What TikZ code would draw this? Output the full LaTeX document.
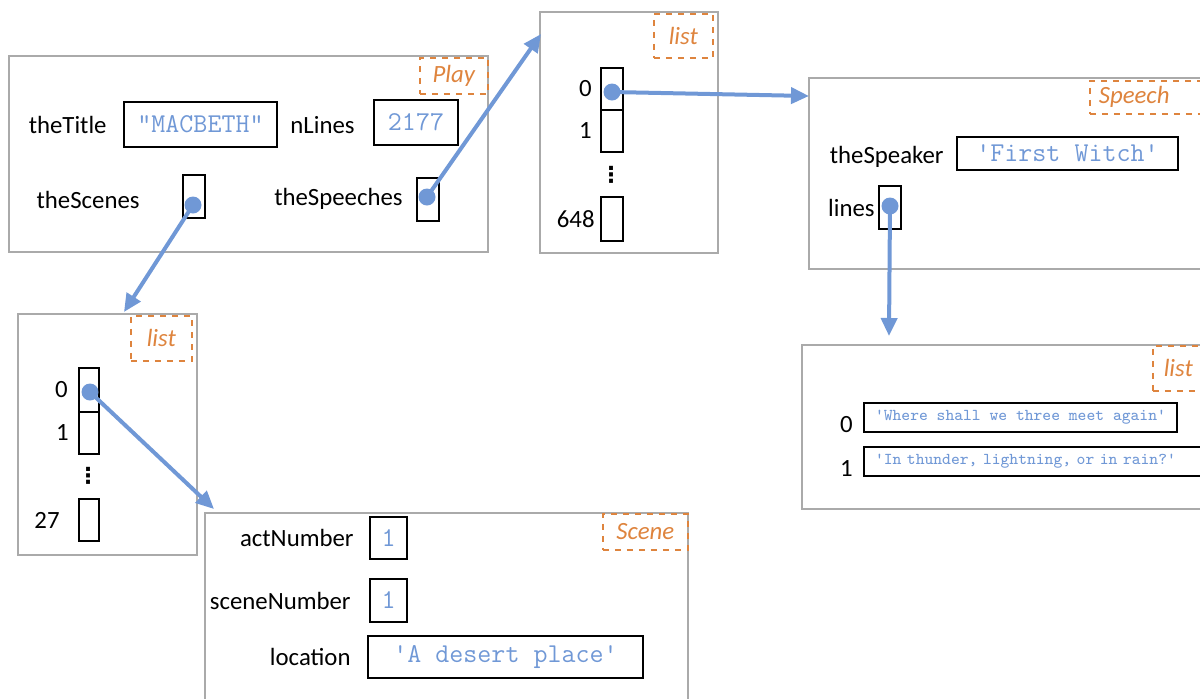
\documentclass[tikz,border=0pt]{standalone}
\usepackage{fontspec}
\setmainfont{Carlito}
\newfontfamily\symfont{DejaVu Sans}
\usepackage{tikz}
\usetikzlibrary{positioning,arrows.meta}
\definecolor{ptrblue}{RGB}{112,152,214}
\definecolor{tagorange}{RGB}{222,132,62}
\definecolor{objgray}{RGB}{170,170,170}

\begin{document}
\begin{tikzpicture}[x=0.5pt, y=-0.5pt,
  obj/.style = {draw=objgray, line width=1pt, anchor=north west, inner sep=0},
  tag/.style = {draw=tagorange, dashed, line width=0.8pt, text=tagorange, font=\fontsize{12.4}{15}\selectfont\itshape, anchor=north west, inner sep=0},
  val/.style = {draw, line width=1pt, text=ptrblue, font=\fontsize{13.6}{15}\selectfont\ttfamily, inner sep=0},
  item/.style = {val, font=\fontsize{8.3}{10}\selectfont\ttfamily, anchor=west, inner xsep=5.5pt, minimum height=14.5pt},
  cell/.style = {draw, line width=1pt, minimum width=11pt, minimum height=21.5pt, inner sep=0, outer sep=0},
  lbl/.style = {font=\fontsize{12.4}{15}\selectfont, inner sep=0},
  vdot/.style = {font=\fontsize{11}{12}\selectfont\bfseries\symfont, inner sep=0},
  dot/.style = {circle, fill=ptrblue, minimum size=8.5pt, inner sep=0},
  ptr/.style = {ptrblue, line width=2pt, -{Triangle[length=9pt, width=8pt]}}]
  \useasboundingbox (0,0) rectangle (1200,698);
  \clip (0,0) rectangle (1200,698);
  % Play
  \node[obj, minimum width=239.5pt, minimum height=98pt] (play) at (8,55) {};
  \node[tag, minimum width=34pt, minimum height=18pt] (playtag) at (419,57) {Play};
  \node[val, minimum width=76.5pt, minimum height=22.5pt] (title) at (200.5,124.5) {"MACBETH"};
  \node[lbl, left=8pt of title] (titlelbl) {theTitle};
  \node[val, minimum width=42pt, minimum height=22.5pt] (nlines) at (416,122.5) {2177};
  \node[lbl, left=9pt of nlines, yshift=-1.5pt] (nlineslbl) {nLines};
  \node[cell] (scenes) at (194,196.5) {};
  \node[lbl, left=21.5pt of scenes, yshift=-1.5pt] (sceneslbl) {theScenes};
  \node[cell] (speeches) at (428,199) {};
  \node[lbl, left=7pt of speeches] (speecheslbl) {theSpeeches};
  \node[dot] (scenesdot) at (193,205) {};
  \node[dot] (speechesdot) at (427,197) {};
  % list of speeches
  \node[obj, minimum width=89pt, minimum height=120.5pt] (spklist) at (539,11) {};
  \node[tag, minimum width=29.5pt, minimum height=22pt] (spklisttag) at (653,13) {list};
  \node[cell, minimum height=21pt] (s0) at (612,89) {};
  \node[cell, minimum height=21pt, below=0pt of s0] (s1) {};
  \node[vdot] (vd1) at (611,175) {⋮};
  \node[cell, minimum height=22pt] (s648) at (612,219) {};
  \node[lbl, left=4.5pt of s0] (s0lbl) {0};
  \node[lbl, left=4.5pt of s1] (s1lbl) {1};
  \node[lbl, left=3pt of s648] (s648lbl) {648};
  \node[dot] (s0dot) at (612,92) {};
  % Speech
  \node[obj, minimum width=210pt, minimum height=95.5pt] (speech) at (808,77) {};
  \node[tag, text width=50pt, align=left, inner xsep=4.5pt, minimum height=16.5pt] (speechtag) at (1089,80) {Speech};
  \node[val, minimum width=110.5pt, minimum height=16.5pt] (speaker) at (1067.5,153.5) {'First Witch'};
  \node[lbl, left=6pt of speaker, yshift=-1.5pt] (speakerlbl) {theSpeaker};
  \node[cell] (lines) at (890,207.5) {};
  \node[lbl, left=2pt of lines] (lineslbl) {lines};
  \node[dot] (linesdot) at (890,206) {};
  % list of lines
  \node[obj, minimum width=210pt, minimum height=82pt] (linelist) at (801,344) {};
  \node[tag, text width=40pt, align=left, inner xsep=5.5pt, minimum height=22.5pt] (linelisttag) at (1152,345) {list};
  \node[item] (l0) at (863,417.5) {'Where shall we three meet again'};
  \node[item, text width=164pt, align=left] (l1) at (863,461.5) {'In thunder, lightning, or in rain?'};
  \node[lbl, left=5pt of l0.south west, anchor=south east] (l0lbl) {0};
  \node[lbl, left=5pt of l1.south west, anchor=south east] (l1lbl) {1};
  % list of scenes
  \node[obj, minimum width=89.5pt, minimum height=120.5pt] (scnlist) at (17,313) {};
  \node[tag, minimum width=30.5pt, minimum height=22.5pt] (scnlisttag) at (130,315) {list};
  \node[cell, minimum width=10pt, minimum height=22pt] (c0) at (89,390) {};
  \node[cell, minimum width=10pt, minimum height=21pt, below=0pt of c0] (c1) {};
  \node[vdot] (vd2) at (88,476) {⋮};
  \node[cell, minimum width=10pt, minimum height=21pt] (c27) at (89,520) {};
  \node[lbl, left=5.5pt of c0] (c0lbl) {0};
  \node[lbl, left=5pt of c1] (c1lbl) {1};
  \node[lbl, left=9.5pt of c27] (c27lbl) {27};
  \node[dot] (c0dot) at (90,392) {};
  % Scene
  \node[obj, minimum width=241.5pt, minimum height=110pt] (scene) at (204,512) {};
  \node[tag, minimum width=42.5pt, minimum height=18pt] (scenetag) at (602,513) {Scene};
  \node[val, minimum width=18.5pt, minimum height=21pt] (act) at (388.5,538) {1};
  \node[lbl, left=7.5pt of act] (actlbl) {actNumber};
  \node[val, minimum width=18.5pt, minimum height=21.5pt] (scnum) at (388.5,600.5) {1};
  \node[lbl, left=9pt of scnum] (scnumlbl) {sceneNumber};
  \node[val, minimum width=137.5pt, minimum height=21pt] (loc) at (505.5,657) {'A desert place'};
  \node[lbl, left=8pt of loc] (loclbl) {location};
  % Edges
  \coordinate (spklistin) at (541,34);
  \coordinate (speechin) at (809,96);
  \coordinate (linelistin) at (889,336);
  \coordinate (scnlistin) at (124,312);
  \coordinate (scenein) at (214,509);
  \draw[ptr] (speechesdot.center) -- (spklistin);
  \draw[ptr] (s0dot.center) -- (speechin);
  \draw[ptr] (linesdot.center) -- (linelistin);
  \draw[ptr] (scenesdot.center) -- (scnlistin);
  \draw[ptr] (c0dot.center) -- (scenein);
\end{tikzpicture}
\end{document}
